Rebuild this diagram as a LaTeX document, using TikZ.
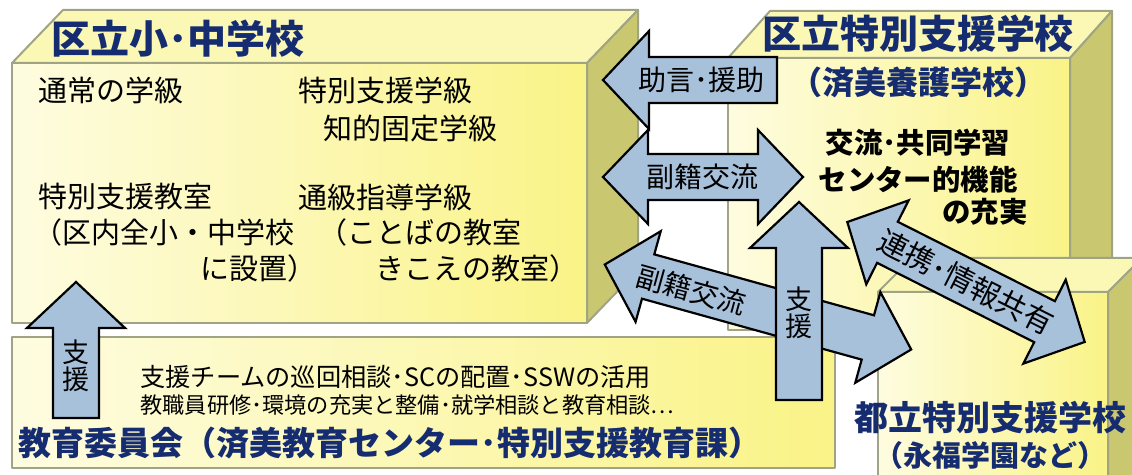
\documentclass[tikz,border=0pt]{standalone}
\usepackage{fontspec}
\setmainfont{Noto Sans CJK JP}
\definecolor{boxline}{RGB}{160,164,132}
\definecolor{paleyel}{RGB}{254,252,224}
\definecolor{deepyel}{RGB}{250,243,135}
\definecolor{topyel}{RGB}{251,248,182}
\definecolor{sideolive}{RGB}{201,199,112}
\definecolor{arrowblue}{RGB}{168,193,219}
\definecolor{navy}{RGB}{22,44,112}

\begin{document}
\begin{tikzpicture}[x=0.5pt, y=-0.5pt,
    boxedge/.style={draw=boxline, line width=1pt, line join=round},
    frontface/.style={boxedge, left color=paleyel, right color=deepyel},
    topface/.style={boxedge, fill=topyel},
    sideface/.style={boxedge, fill=sideolive},
    title/.style={font=\fontsize{#1}{#1}\selectfont\bfseries, text=navy, inner sep=0pt},
    body/.style={font=\fontsize{14.5}{17}\selectfont, anchor=west, inner sep=0pt},
    strong/.style={font=\fontsize{14.2}{16}\selectfont\bfseries, inner sep=0pt},
    lbl/.style={font=\fontsize{#1}{13.5}\selectfont, inner sep=0pt, align=center},
    lbl/.default=14,
    arrowbody/.style={draw=black, line width=1.1pt, fill=arrowblue, line join=miter},
    pics/dblarrow/.style={code={\path[arrowbody] (-#1,0) -- (-#1+45,-47) -- (-#1+45,-23) -- (#1-45,-23) -- (#1-45,-47) -- (#1,0) -- (#1-45,47) -- (#1-45,23) -- (-#1+45,23) -- (-#1+45,47) -- cycle;}},
    pics/sglarrow/.style={code={\path[arrowbody] (-#1,-23) -- (#1-46,-23) -- (#1-46,-49) -- (#1,0) -- (#1-46,49) -- (#1-46,23) -- (-#1,23) -- cycle;}}]
    \useasboundingbox (0,0) rectangle (1132,475);
    \clip (0,0) rectangle (1132,475);

    % Boxes
    \path[frontface] (12,63) rectangle (587,323);
    \path[topface] (12,63) -- (63,10) -- (638,10) -- (587,63) -- cycle;
    \path[sideface] (587,63) -- (638,10) -- (638,270) -- (587,323) -- cycle;

    \path[frontface] (728,58) rectangle (1070,330);
    \path[topface] (728,58) -- (770,11) -- (1112,11) -- (1070,58) -- cycle;
    \path[sideface] (1070,58) -- (1112,11) -- (1112,283) -- (1070,330) -- cycle;

    \path[frontface] (878,292) rectangle (1108,485);
    \path[topface] (878,292) -- (912,258) -- (1142,258) -- (1108,292) -- cycle;
    \path[sideface] (1108,292) -- (1142,258) -- (1142,485) -- (1108,485) -- cycle;

    \path[frontface] (12,337) rectangle (835,468);

    % Texts in the boxes
    \node[title=19.5] (kuritsu) at (178,39) {区立小･中学校};
    \node[body] (tsujo) at (38,90) {通常の学級};
    \node[body] (tokuQ) at (298,90) {特別支援学級};
    \node[body] (chiteki) at (323,128) {知的固定学級};
    \node[body] (tokuR) at (38,197) {特別支援教室};
    \node[body] (kunai) at (33,232) {（区内全小・中学校};
    \node[body] (setchi) at (200,268) {に設置）};
    \node[body] (tsukyu) at (298,197) {通級指導学級};
    \node[body] (kotoba) at (318,232) {（ことばの教室};
    \node[body] (kikoe) at (375,268) {きこえの教室）};

    \node[title=19.5] (tokushi) at (918,34) {区立特別支援学校};
    \node[title=16] (saibi) at (918,82) {（済美養護学校）};
    \node[strong] (koryu) at (918,143) {交流･共同学習};
    \node[strong] (center) at (918,180) {センター的機能};
    \node[strong] (jujitsu) at (985,212) {の充実};

    \node[title=17] (toritsu) at (990,418) {都立特別支援学校};
    \node[title=14.5] (eifuku) at (990,455) {（永福学園など）};

    \node[body, font=\fontsize{12.6}{14}\selectfont] (team) at (140,377) {支援チームの巡回相談･SCの配置･SSWの活用};
    \node[body, font=\fontsize{11.1}{13}\selectfont] (kenshu) at (140,405) {教職員研修･環境の充実と整備･就学相談と教育相談…};
    \node[title=16.5] (kyoiku) at (390,443) {教育委員会（済美教育センター･特別支援教育課）};

    % Arrows between the schools
    \pic[rotate=180] at (690,80) {sglarrow=87};
    \node[lbl] (jogen) at (701,80) {助言･援助};
    \pic at (703,177) {dblarrow=100};
    \node[lbl] (fuku1) at (702,177) {副籍交流};
    \pic[rotate=-15.5] at (758,307) {dblarrow=159};
    \node[lbl, rotate=-15.5] (fuku2) at (691,290) {副籍交流};
    \pic[rotate=90] at (799,301) {sglarrow=99};
    \node[lbl=13.5] (shienC) at (799,313) {支\\援};
    \pic[rotate=-26.8] at (966,282) {dblarrow=133};
    \node[lbl=14.8, rotate=-26.8] (renkei) at (966,282) {連携･情報共有};
    \pic[rotate=90] at (76,350) {sglarrow=68};
    \node[lbl=13.5] (shienL) at (76,366) {支\\援};
\end{tikzpicture}
\end{document}
